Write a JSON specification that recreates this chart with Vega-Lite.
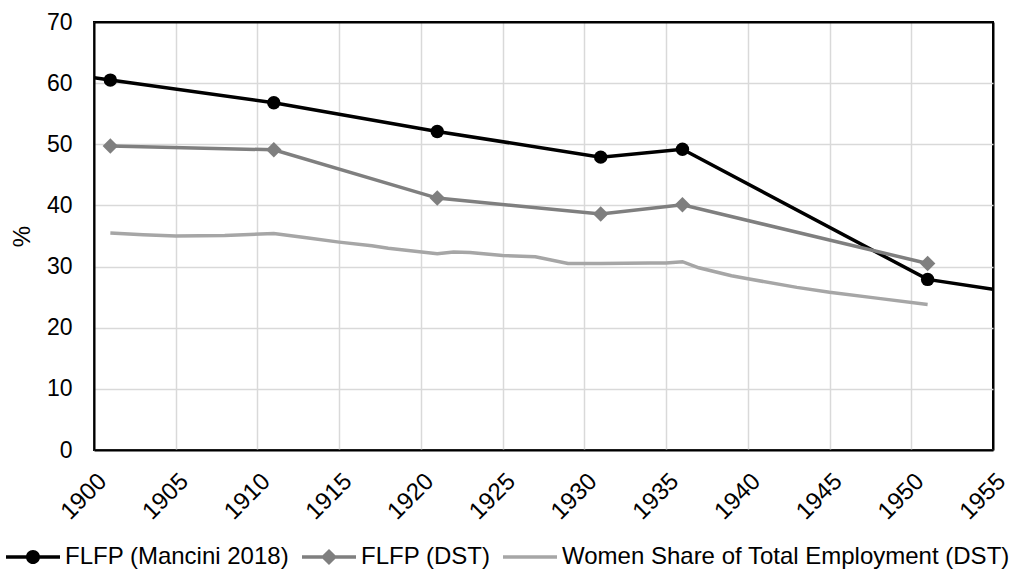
{
  "$schema": "https://vega.github.io/schema/vega-lite/v6.json",
  "width": 899,
  "height": 428,
  "autosize": "none",
  "padding": {"left": 94, "top": 22, "right": 17, "bottom": 121},
  "background": "white",
  "data": {
    "values": [
      {"series": "FLFP (Mancini 2018)", "year": 1900, "value": 60.9},
      {"series": "FLFP (Mancini 2018)", "year": 1901, "value": 60.5},
      {"series": "FLFP (Mancini 2018)", "year": 1911, "value": 56.8},
      {"series": "FLFP (Mancini 2018)", "year": 1921, "value": 52.1},
      {"series": "FLFP (Mancini 2018)", "year": 1931, "value": 47.9},
      {"series": "FLFP (Mancini 2018)", "year": 1936, "value": 49.2},
      {"series": "FLFP (Mancini 2018)", "year": 1951, "value": 27.9},
      {"series": "FLFP (Mancini 2018)", "year": 1955, "value": 26.3},
      {"series": "FLFP (DST)", "year": 1901, "value": 49.7},
      {"series": "FLFP (DST)", "year": 1911, "value": 49.1},
      {"series": "FLFP (DST)", "year": 1921, "value": 41.2},
      {"series": "FLFP (DST)", "year": 1931, "value": 38.6},
      {"series": "FLFP (DST)", "year": 1936, "value": 40.1},
      {"series": "FLFP (DST)", "year": 1951, "value": 30.5},
      {"series": "Women Share of Total Employment (DST)", "year": 1901, "value": 35.5},
      {"series": "Women Share of Total Employment (DST)", "year": 1903, "value": 35.2},
      {"series": "Women Share of Total Employment (DST)", "year": 1905, "value": 35.0},
      {"series": "Women Share of Total Employment (DST)", "year": 1908, "value": 35.1},
      {"series": "Women Share of Total Employment (DST)", "year": 1911, "value": 35.4},
      {"series": "Women Share of Total Employment (DST)", "year": 1913, "value": 34.7},
      {"series": "Women Share of Total Employment (DST)", "year": 1915, "value": 34.0},
      {"series": "Women Share of Total Employment (DST)", "year": 1917, "value": 33.4},
      {"series": "Women Share of Total Employment (DST)", "year": 1918, "value": 33.0},
      {"series": "Women Share of Total Employment (DST)", "year": 1921, "value": 32.1},
      {"series": "Women Share of Total Employment (DST)", "year": 1922, "value": 32.4},
      {"series": "Women Share of Total Employment (DST)", "year": 1923, "value": 32.3},
      {"series": "Women Share of Total Employment (DST)", "year": 1925, "value": 31.8},
      {"series": "Women Share of Total Employment (DST)", "year": 1927, "value": 31.6},
      {"series": "Women Share of Total Employment (DST)", "year": 1929, "value": 30.5},
      {"series": "Women Share of Total Employment (DST)", "year": 1931, "value": 30.5},
      {"series": "Women Share of Total Employment (DST)", "year": 1934, "value": 30.6},
      {"series": "Women Share of Total Employment (DST)", "year": 1935, "value": 30.6},
      {"series": "Women Share of Total Employment (DST)", "year": 1936, "value": 30.8},
      {"series": "Women Share of Total Employment (DST)", "year": 1937, "value": 29.8},
      {"series": "Women Share of Total Employment (DST)", "year": 1939, "value": 28.5},
      {"series": "Women Share of Total Employment (DST)", "year": 1940, "value": 28.0},
      {"series": "Women Share of Total Employment (DST)", "year": 1943, "value": 26.6},
      {"series": "Women Share of Total Employment (DST)", "year": 1945, "value": 25.8},
      {"series": "Women Share of Total Employment (DST)", "year": 1948, "value": 24.8},
      {"series": "Women Share of Total Employment (DST)", "year": 1951, "value": 23.8}
    ]
  },
  "encoding": {
    "x": {
      "field": "year",
      "type": "quantitative",
      "scale": {"domain": [1900, 1955], "nice": false, "zero": false},
      "axis": {
        "title": null,
        "values": [1900, 1905, 1910, 1915, 1920, 1925, 1930, 1935, 1940, 1945, 1950, 1955],
        "format": "d",
        "labelAngle": -45,
        "labelFontSize": 24,
        "labelPadding": 19,
        "gridColor": {"condition": {"test": "datum.value === 1955", "value": "black"}, "value": "#D9D9D9"},
        "gridWidth": {"condition": {"test": "datum.value === 1955", "value": 2}, "value": 1.5}
      }
    },
    "y": {
      "field": "value",
      "type": "quantitative",
      "scale": {"domain": [0, 70], "nice": false},
      "axis": {
        "title": "%",
        "values": [0, 10, 20, 30, 40, 50, 60, 70],
        "labelFontSize": 23,
        "labelPadding": 22,
        "titleFontSize": 24,
        "titlePadding": 12,
        "gridColor": {"condition": {"test": "datum.value === 70", "value": "black"}, "value": "#D9D9D9"},
        "gridWidth": {"condition": {"test": "datum.value === 70", "value": 2}, "value": 1.5}
      }
    }
  },
  "layer": [
    {
      "mark": {"type": "line", "strokeWidth": 3.5, "clip": true},
      "encoding": {
        "color": {
          "field": "series",
          "type": "nominal",
          "sort": ["FLFP (Mancini 2018)", "FLFP (DST)", "Women Share of Total Employment (DST)"],
          "scale": {
            "domain": ["FLFP (Mancini 2018)", "FLFP (DST)", "Women Share of Total Employment (DST)"],
            "range": ["#000000", "#7F7F7F", "#A6A6A6"]
          },
          "legend": {
            "title": null,
            "orient": "none",
            "direction": "horizontal",
            "legendX": -88,
            "legendY": 508,
            "padding": 0,
            "labelFont": "Liberation Sans",
            "labelFontSize": 24,
            "labelColor": "black",
            "labelOffset": 5,
            "labelLimit": 0,
            "columnPadding": 12,
            "symbolSize": 2916,
            "symbolStrokeWidth": 0,
            "encode": {
              "symbols": {
                "update": {
                  "shape": {"signal": "datum.value === 'FLFP (Mancini 2018)' ? 'M-1,-0.065L1,-0.065L1,0.065L-1,0.065Z M0.26,0A0.26,0.26 0 1 1 -0.26,0A0.26,0.26 0 1 1 0.26,0Z' : datum.value === 'FLFP (DST)' ? 'M-1,-0.065L1,-0.065L1,0.065L-1,0.065Z M0,-0.3L0.3,0L0,0.3L-0.3,0Z' : 'M-1,-0.065L1,-0.065L1,0.065L-1,0.065Z'"},
                  "fill": {"scale": "color", "field": "value"},
                  "fillOpacity": {"value": 1},
                  "strokeWidth": {"value": 0}
                }
              }
            }
          }
        }
      }
    },
    {
      "transform": [{"filter": "datum.series === 'FLFP (DST)'"}],
      "mark": {"type": "point", "shape": "diamond", "filled": true, "opacity": 1, "size": 240, "color": "#7F7F7F"}
    },
    {
      "transform": [{"filter": "datum.series === 'FLFP (Mancini 2018)' && datum.year > 1900 && datum.year < 1955"}],
      "mark": {"type": "point", "shape": "circle", "filled": true, "opacity": 1, "size": 180, "color": "#000000"}
    }
  ],
  "config": {
    "view": {"stroke": "black", "strokeWidth": 2},
    "font": "Liberation Sans",
    "axis": {
      "labelFont": "Liberation Sans",
      "labelFontSize": 22,
      "labelColor": "black",
      "titleFont": "Liberation Sans",
      "titleFontSize": 22,
      "titleFontWeight": "normal",
      "titleColor": "black",
      "ticks": false,
      "domainColor": "black",
      "domainWidth": 2,
      "grid": true
    }
  }
}
